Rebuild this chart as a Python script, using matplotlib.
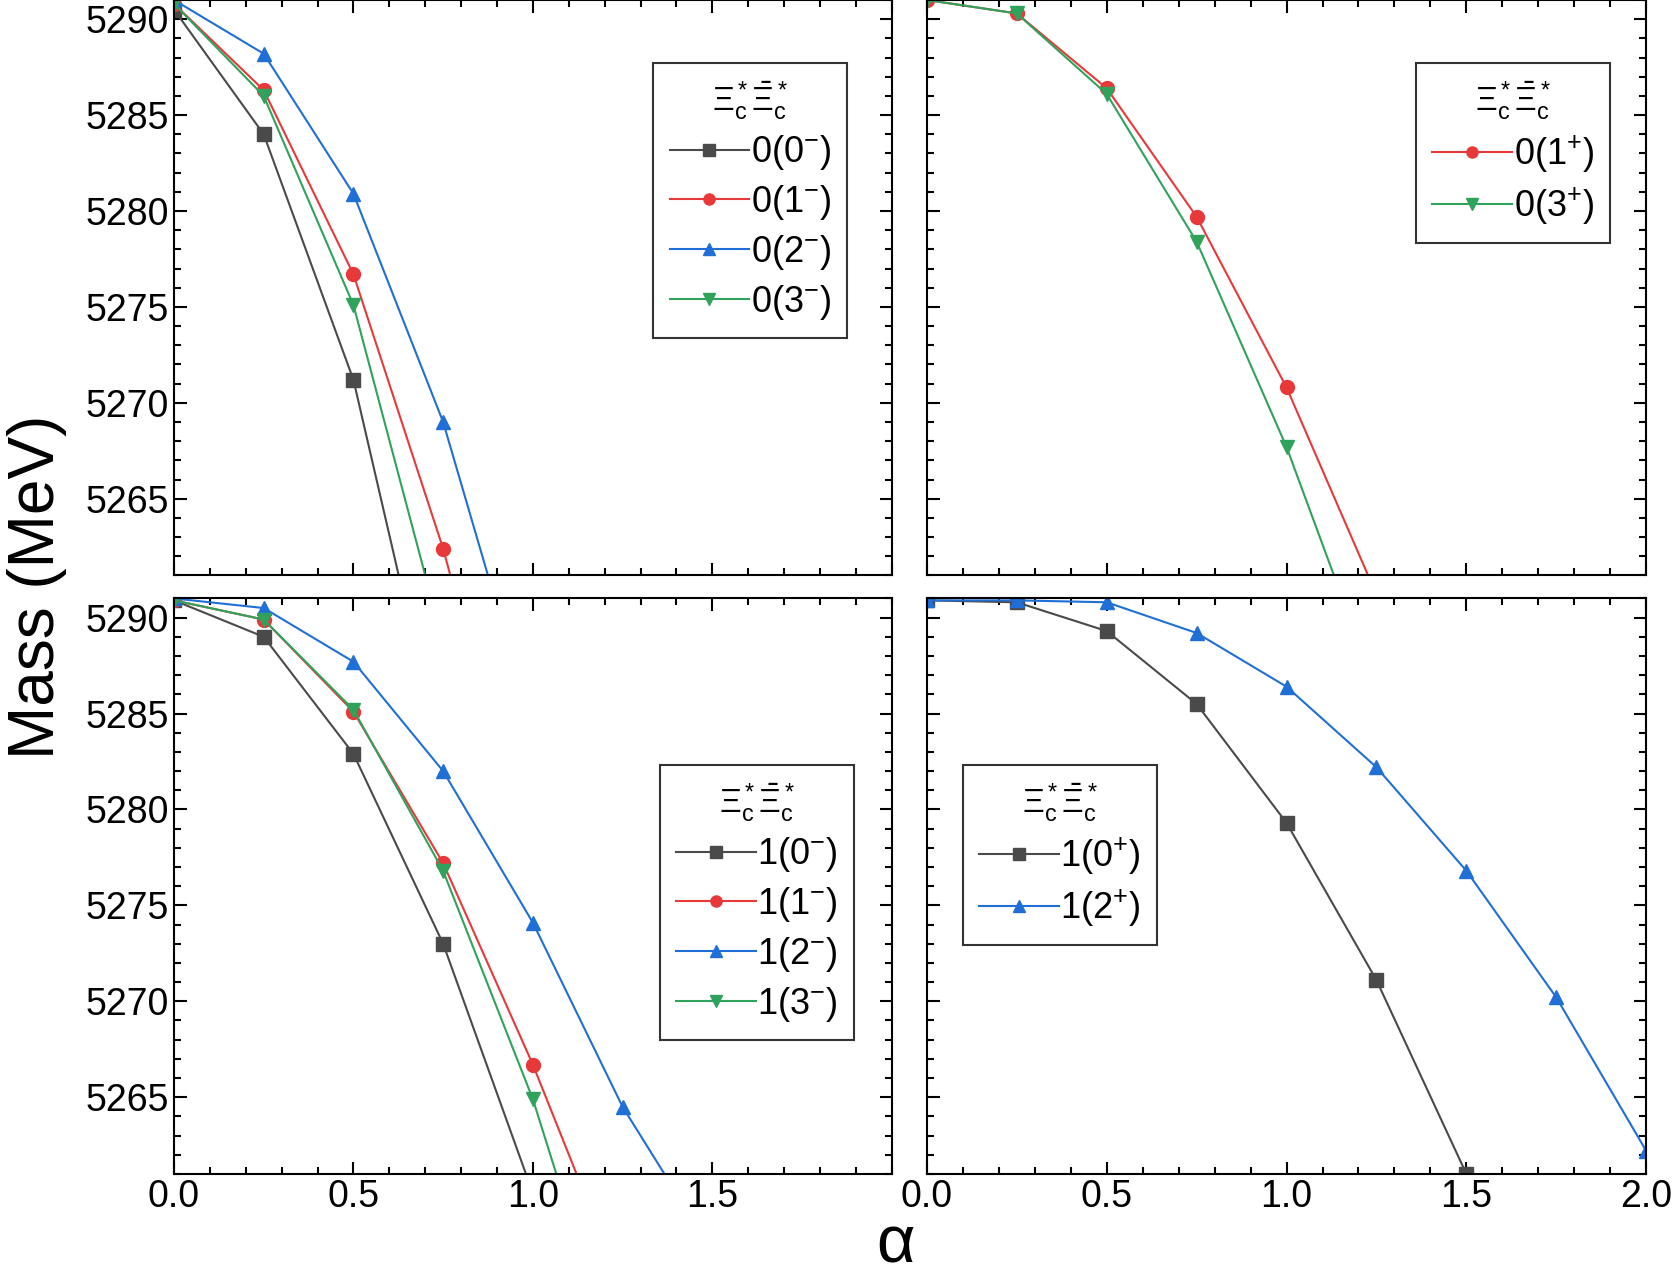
import matplotlib
matplotlib.use("Agg")
import matplotlib.pyplot as plt
from matplotlib.ticker import MultipleLocator

plt.rcParams["font.family"] = ["Liberation Sans", "DejaVu Sans"]
plt.rcParams["mathtext.fontset"] = "custom"
plt.rcParams["mathtext.rm"] = "Liberation Sans"
plt.rcParams["mathtext.it"] = "Liberation Sans"

alpha = [0.0, 0.25, 0.5, 0.75, 1.0, 1.25, 1.5, 1.75, 2.0]

# top-left: I=0, negative parity
tl_00 = [5290.5, 5284.0, 5271.2, 5251.0]
tl_01 = [5290.8, 5286.3, 5276.7, 5262.4, 5245.0]
tl_02 = [5291.0, 5288.2, 5280.9, 5269.0, 5253.0]
tl_03 = [5290.8, 5286.0, 5275.1, 5257.5]
# top-right: I=0, positive parity
tr_01 = [5291.0, 5290.3, 5286.4, 5279.7, 5270.8, 5260.0]
tr_03 = [5291.0, 5290.3, 5286.1, 5278.4, 5267.7, 5255.0]
# bottom-left: I=1, negative parity
bl_10 = [5290.9, 5289.0, 5282.9, 5273.0, 5260.0]
bl_11 = [5290.9, 5289.9, 5285.1, 5277.2, 5266.7, 5255.0]
bl_12 = [5291.0, 5290.5, 5287.7, 5282.0, 5274.1, 5264.5, 5257.0]
bl_13 = [5290.9, 5289.9, 5285.2, 5276.8, 5264.9, 5250.0]
# bottom-right: I=1, positive parity
br_10 = [5290.9, 5290.8, 5289.3, 5285.5, 5279.3, 5271.1, 5261.0]
br_12 = [5290.9, 5290.9, 5290.8, 5289.2, 5286.4, 5282.2, 5276.8, 5270.2, 5262.2]

GRAY, RED, BLUE, GREEN = "#4a4a4a", "#e8393a", "#1f6fd6", "#2fa35c"
title = r"$\Xi_c^*\bar{\Xi}_c^*$"

fig = plt.figure(figsize=(16.73, 12.76), dpi=100)
ax_tl = fig.add_axes([0.104, 0.549, 0.429, 0.451])
ax_tr = fig.add_axes([0.554, 0.549, 0.430, 0.451])
ax_bl = fig.add_axes([0.104, 0.080, 0.429, 0.451])
ax_br = fig.add_axes([0.554, 0.080, 0.430, 0.451])


def draw(ax, series, legend_loc):
    for y, color, marker, label in series:
        ax.plot(alpha[:len(y)], y, color=color, marker=marker, markersize=10,
                linewidth=1.5, label=label, clip_on=True)
    ax.set_xlim(0, 2)
    ax.set_ylim(5261, 5291)
    ax.xaxis.set_major_locator(MultipleLocator(0.5))
    ax.xaxis.set_minor_locator(MultipleLocator(0.1))
    ax.yaxis.set_major_locator(MultipleLocator(5))
    ax.yaxis.set_minor_locator(MultipleLocator(1))
    ax.tick_params(which="both", direction="in", top=True, right=True,
                   labelsize=27, width=1.5)
    ax.tick_params(which="major", length=9)
    ax.tick_params(which="minor", length=5)
    for s in ax.spines.values():
        s.set_linewidth(1.5)
    leg = ax.legend(loc="upper left", bbox_to_anchor=legend_loc, title=title,
                    fontsize=26, title_fontsize=24, fancybox=False,
                    edgecolor="black", handlelength=2.2, handletextpad=0.05,
                    borderpad=0.45, labelspacing=0.3, markerscale=0.8,
                    borderaxespad=0)
    leg.get_frame().set_linewidth(1.5)


draw(ax_tl, [(tl_00, GRAY, "s", "0(0$^{-}$)"), (tl_01, RED, "o", "0(1$^{-}$)"),
             (tl_02, BLUE, "^", "0(2$^{-}$)"), (tl_03, GREEN, "v", "0(3$^{-}$)")],
     (0.668, 0.89))
draw(ax_tr, [(tr_01, RED, "o", "0(1$^{+}$)"), (tr_03, GREEN, "v", "0(3$^{+}$)")],
     (0.68, 0.89))
draw(ax_bl, [(bl_10, GRAY, "s", "1(0$^{-}$)"), (bl_11, RED, "o", "1(1$^{-}$)"),
             (bl_12, BLUE, "^", "1(2$^{-}$)"), (bl_13, GREEN, "v", "1(3$^{-}$)")],
     (0.677, 0.71))
draw(ax_br, [(br_10, GRAY, "s", "1(0$^{+}$)"), (br_12, BLUE, "^", "1(2$^{+}$)")],
     (0.05, 0.71))

ax_tl.tick_params(labelbottom=False)
ax_tr.tick_params(labelbottom=False, labelleft=False)
ax_br.tick_params(labelleft=False)
ax_bl.set_xticks([0, 0.5, 1.0, 1.5])
ax_br.set_xticks([0, 0.5, 1.0, 1.5, 2.0])

fig.text(0.022, 0.54, "Mass (MeV)", rotation=90, fontsize=46,
         ha="center", va="center")
fig.text(0.535, 0.0, r"$\alpha$", fontsize=48, ha="center", va="bottom")

fig.savefig("out.png", dpi=100)
